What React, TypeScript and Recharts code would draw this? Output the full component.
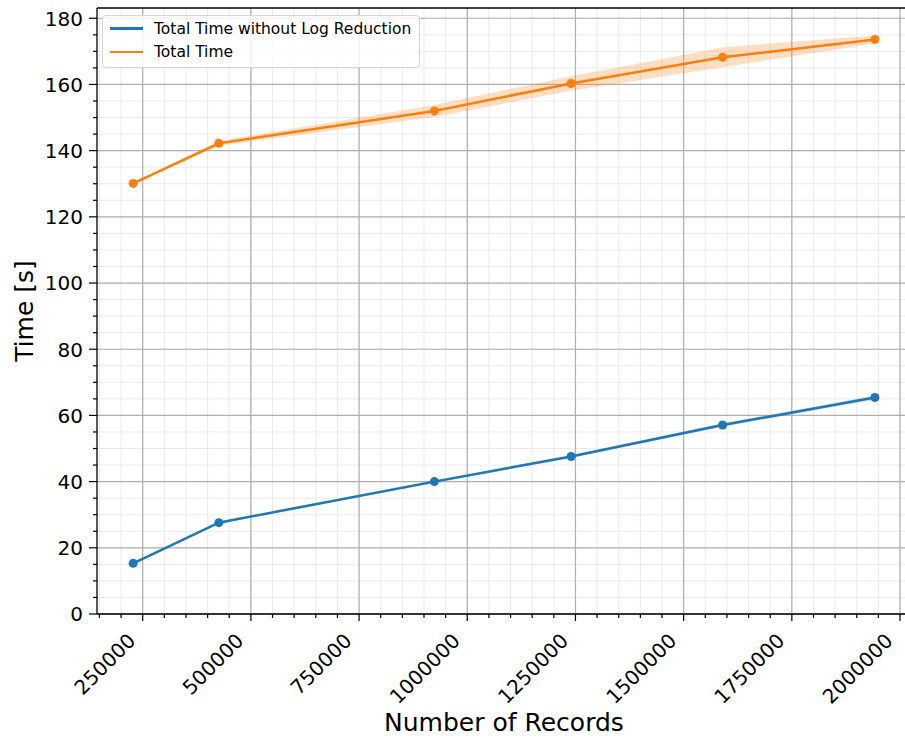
import { ComposedChart, Line, Area, XAxis, YAxis, CartesianGrid, Legend } from 'recharts';

// Anzahl Records pro Messpunkt
const records = [228000, 426000, 924000, 1240000, 1590000, 1942000];

// Mittelwerte + Standardabweichung (Sekunden)
const totalTime = [130.1, 142.2, 152.0, 160.3, 168.2, 173.6];
const totalTimeStd = [0.3, 0.7, 1.8, 2.2, 3.0, 1.2];
const noLogTime = [15.3, 27.6, 40.0, 47.6, 57.1, 65.4];
const noLogTimeStd = [0.2, 0.3, 0.4, 0.4, 0.5, 0.6];

const xMajorTicks = [250000, 500000, 750000, 1000000, 1250000, 1500000, 1750000, 2000000];
const yMajorTicks = [0, 20, 40, 60, 80, 100, 120, 140, 160, 180];

const xDomain = [144400, 2011500];
const yDomain = [0, 183.1];

// Nebenticks: alle 50000 bzw. alle 5
const xMinorTicks = Array.from({ length: 38 }, (_, i) => 150000 + i * 50000);
const yMinorTicks = Array.from({ length: 37 }, (_, i) => i * 5);

const BLUE = '#1f77b4';
const ORANGE = '#ff7f0e';
const FONT = '"DejaVu Sans", sans-serif';

const data = records.map((r, i) => ({
  records: r,
  total: totalTime[i],
  totalBand: [totalTime[i] - totalTimeStd[i], totalTime[i] + totalTimeStd[i]],
  noLog: noLogTime[i],
  noLogBand: [noLogTime[i] - noLogTimeStd[i], noLogTime[i] + noLogTimeStd[i]],
}));

const XTick = (props: any) => {
  const { x, y, payload } = props;
  const major = xMajorTicks.includes(payload.value);
  const tx = x - 6;
  const ty = y + 28;
  return (
    <g>
      <line x1={x} x2={x} y1={y} y2={y + (major ? 7 : 4)} stroke="#000" strokeWidth={1.2} />
      {major && (
        <text
          x={tx}
          y={ty}
          transform={`rotate(-45, ${tx}, ${ty})`}
          textAnchor="end"
          fontSize={20}
          fontFamily={FONT}
          fill="#000"
        >
          {payload.value}
        </text>
      )}
    </g>
  );
};

const YTick = (props: any) => {
  const { x, y, payload } = props;
  const major = yMajorTicks.includes(payload.value);
  return (
    <g>
      <line x1={x} x2={x - (major ? 8 : 4)} y1={y} y2={y} stroke="#000" strokeWidth={1.2} />
      {major && (
        <text x={x - 14} y={y + 7.3} textAnchor="end" fontSize={20} fontFamily={FONT} fill="#000">
          {payload.value}
        </text>
      )}
    </g>
  );
};

const legendItems = [
  { label: 'Total Time without Log Reduction', color: BLUE },
  { label: 'Total Time', color: ORANGE },
];

const LegendBox = () => (
  <div
    style={{
      boxSizing: 'border-box',
      width: 318,
      height: 53,
      paddingTop: 1,
      border: '1px solid #d5d5d5',
      borderRadius: 4,
      background: 'rgba(255,255,255,0.8)',
      fontFamily: FONT,
      fontSize: 15.5,
      color: '#000',
    }}
  >
    {legendItems.map((it) => (
      <div key={it.label} style={{ display: 'flex', alignItems: 'center', height: 23.4 }}>
        <span style={{ display: 'inline-block', width: 33, height: 2.5, marginLeft: 7, background: it.color }} />
        <span style={{ marginLeft: 11, whiteSpace: 'nowrap' }}>{it.label}</span>
      </div>
    ))}
  </div>
);

export default function App() {
  return (
    <div style={{ position: 'absolute', left: 0, top: 0, width: 905, height: 738, background: '#fff' }}>
      <ComposedChart width={905} height={738} data={data} margin={{ top: 8, right: 0, left: 0, bottom: 0 }}>
        <CartesianGrid horizontalValues={yMinorTicks} verticalValues={xMinorTicks} stroke="#ebebeb" strokeWidth={1} />
        <CartesianGrid horizontalValues={yMajorTicks} verticalValues={xMajorTicks} stroke="#b0b0b0" strokeWidth={1.2} />
        <CartesianGrid horizontalValues={[yDomain[1]]} vertical={false} stroke="#000" strokeWidth={1.3} />
        <XAxis
          dataKey="records"
          type="number"
          domain={xDomain}
          allowDataOverflow
          ticks={xMinorTicks}
          interval={0}
          height={124}
          tickSize={0}
          tickMargin={0}
          tickLine={false}
          tick={<XTick />}
          axisLine={{ stroke: '#000', strokeWidth: 1.3 }}
          label={{
            content: (p: any) => {
              const vb = p.viewBox;
              return (
                <text x={vb.x + 407} y={vb.y + 117} textAnchor="middle" fontSize={25} fontFamily={FONT} fill="#000">
                  Number of Records
                </text>
              );
            },
          }}
        />
        <YAxis
          type="number"
          domain={yDomain}
          allowDataOverflow
          ticks={yMinorTicks}
          interval={0}
          width={97}
          tickSize={0}
          tickMargin={0}
          tickLine={false}
          tick={<YTick />}
          axisLine={{ stroke: '#000', strokeWidth: 1.3 }}
          label={{
            content: (p: any) => {
              const vb = p.viewBox;
              const cx = vb.x + 33;
              const cy = vb.y + vb.height / 2;
              return (
                <text
                  x={cx}
                  y={cy}
                  transform={`rotate(-90, ${cx}, ${cy})`}
                  textAnchor="middle"
                  fontSize={25}
                  fontFamily={FONT}
                  fill="#000"
                >
                  Time [s]
                </text>
              );
            },
          }}
        />
        <Area
          type="linear"
          dataKey="noLogBand"
          stroke="none"
          fill={BLUE}
          fillOpacity={0.25}
          isAnimationActive={false}
          activeDot={false}
        />
        <Area
          type="linear"
          dataKey="totalBand"
          stroke="none"
          fill={ORANGE}
          fillOpacity={0.25}
          isAnimationActive={false}
          activeDot={false}
        />
        <Line
          type="linear"
          dataKey="noLog"
          stroke={BLUE}
          strokeWidth={2.5}
          dot={{ r: 4.5, fill: BLUE, stroke: BLUE, strokeWidth: 0 }}
          activeDot={false}
          isAnimationActive={false}
        />
        <Line
          type="linear"
          dataKey="total"
          stroke={ORANGE}
          strokeWidth={2.5}
          dot={{ r: 4.5, fill: ORANGE, stroke: ORANGE, strokeWidth: 0 }}
          activeDot={false}
          isAnimationActive={false}
        />
        <Legend
          layout="vertical"
          verticalAlign="middle"
          align="center"
          wrapperStyle={{ top: 15, left: 102, width: 318, height: 53 }}
          content={() => <LegendBox />}
        />
      </ComposedChart>
    </div>
  );
}
